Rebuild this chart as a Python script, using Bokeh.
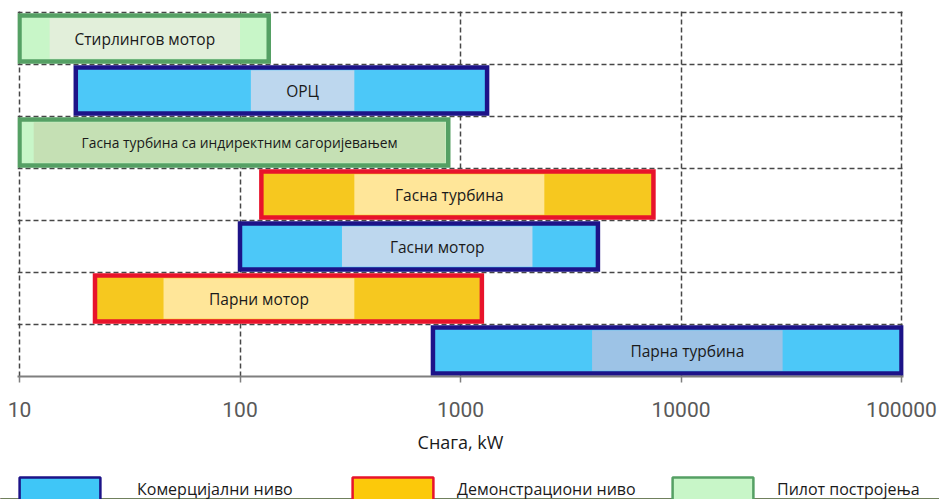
import math
from bokeh.plotting import figure
from bokeh.layouts import column
from bokeh.models import (Range1d, FixedTicker, CustomJSTickFormatter, Legend,
                          LegendItem, ColumnDataSource)
from bokeh.embed import file_html
from bokeh.resources import INLINE

# ---------------- data ----------------
technologies = ["Стирлингов мотор", "ОРЦ",
                "Гасна турбина са индиректним сагоријевањем",
                "Гасна турбина", "Гасни мотор", "Парни мотор", "Парна турбина"]
power_min_kw = [10, 18, 10, 125, 100, 22, 750]
power_max_kw = [135, 1320, 880, 7500, 4200, 1250, 100000]
maturity = ["pilot", "commercial", "pilot", "demo", "commercial", "demo", "commercial"]
label_box_min_kw = [13.7, 112, 11.6, 330, 290, 45, 3950]
label_box_max_kw = [100, 330, 855, 2400, 2120, 330, 28900]
tick_values = [10, 100, 1000, 10000, 100000]
legend_order = ["commercial", "demo", "pilot"]
legend_labels = ["Комерцијални ниво", "Демонстрациони ниво", "Пилот постројења"]
x_title = "Снага, kW"

# ---------------- styles ----------------
fill_colors = {"commercial": "#4cc8f8", "demo": "#f6c81f", "pilot": "#c8f6c8"}
legend_fill_colors = {"commercial": "#3fc6f7", "demo": "#fcc90a", "pilot": "#c8f6c8"}
line_colors = {"commercial": "#1d1388", "demo": "#e8132b", "pilot": "#55a064"}
label_box_colors = ["#e2efda", "#bdd7ee", "#c5e0b4", "#ffe699", "#bdd7ee", "#ffe699", "#9dc3e6"]
label_font_sizes = ["15.5px", "15.5px", "13.8px", "15.5px", "15.5px", "15.5px", "15.5px"]
legend_x_px = [9, 342, 662]          # legend placement (screen px from left edge)
legend_standoff_px = [27, 14, 14]
FONT = "Open Sans"

n = len(technologies)
row_y = [n - 1 - i + 0.5 for i in range(n)]

PX_DEC = 220.5      # pixels per decade
PAD = 2.0           # extra pixels so edge grid lines show
p = figure(width=939, height=474, x_axis_type="log",
           x_range=Range1d(10 ** (1 - PAD / PX_DEC), 10 ** (5 + PAD / PX_DEC)),
           y_range=Range1d(0, n + PAD / 52.0),
           output_backend="svg", toolbar_location=None,
           min_border_left=17, min_border_right=36, min_border_top=10,
           min_border_bottom=98)
p.outline_line_color = None
p.background_fill_color = "white"
p.border_fill_color = "white"

# grid
p.xgrid.ticker = FixedTicker(ticks=tick_values, minor_ticks=[])
p.ygrid.ticker = FixedTicker(ticks=list(range(0, n + 1)), minor_ticks=[])
for g in (p.xgrid, p.ygrid):
    g.grid_line_color = "#474747"
    g.grid_line_dash = "5 3"
    g.grid_line_width = 1.5
p.yaxis.visible = False

# bars grouped by maturity
for key in legend_order:
    idx = [i for i in range(n) if maturity[i] == key]
    src = ColumnDataSource(dict(
        y=[row_y[i] for i in idx],
        left=[power_min_kw[i] for i in idx],
        right=[power_max_kw[i] for i in idx]))
    p.hbar(y="y", left="left", right="right", height=0.88, source=src,
           fill_color=fill_colors[key], line_color=line_colors[key],
           line_width=4.5, line_join="miter")

# label boxes
lsrc = ColumnDataSource(dict(
    y=row_y, left=label_box_min_kw, right=label_box_max_kw,
    color=label_box_colors,
    xc=[math.sqrt(a * b) for a, b in zip(label_box_min_kw, label_box_max_kw)],
    text=technologies, fs=label_font_sizes))
p.hbar(y="y", left="left", right="right", height=0.78, source=lsrc,
       fill_color="color", line_color=None)
p.text(x="xc", y="y", text="text", source=lsrc, text_align="center",
       text_baseline="middle", text_font_size="fs", text_color="#1a1a1a",
       text_font={"value": FONT})

# x axis
ax = p.xaxis[0]
ax.ticker = FixedTicker(ticks=tick_values, minor_ticks=[])
ax.formatter = CustomJSTickFormatter(code="return tick.toFixed(0);")
ax.axis_line_color = "#7f7f7f"
ax.axis_line_width = 2
ax.major_tick_line_color = "#7f7f7f"
ax.major_tick_line_width = 1.5
ax.major_tick_out = 6
ax.major_tick_in = 0
ax.minor_tick_line_color = None
ax.major_label_text_font = "Roboto"
ax.major_label_text_font_size = "21px"
ax.major_label_text_color = "#595959"
ax.major_label_standoff = 19
ax.axis_label = x_title
ax.axis_label_text_font = FONT
ax.axis_label_text_font_style = "normal"
ax.axis_label_text_font_size = "18px"
ax.axis_label_text_color = "#1a1a1a"
ax.axis_label_standoff = 10

# legend strip
pl = figure(width=939, height=25, x_range=Range1d(0, 1), y_range=Range1d(0, 1),
            output_backend="svg", toolbar_location=None,
            x_axis_location=None, y_axis_location=None,
            min_border=0, min_border_left=0, min_border_right=0,
            min_border_top=0, min_border_bottom=0)
try:
    pl.frame_align = False
except Exception:
    pass
pl.outline_line_color = None
pl.grid.visible = False
pl.background_fill_color = "white"
pl.border_fill_color = "white"
for key, lab, lx, so in zip(legend_order, legend_labels, legend_x_px, legend_standoff_px):
    dummy = ColumnDataSource(dict(y=[-5.0], left=[0.0], right=[1.0]))
    r = pl.hbar(y="y", left="left", right="right", height=1, source=dummy,
                fill_color=legend_fill_colors[key], line_color=line_colors[key],
                line_width=2.5)
    lg = Legend(items=[LegendItem(label=lab, renderers=[r])], location=(lx, -5),
                glyph_width=101, glyph_height=30, label_standoff=so,
                padding=0, margin=0, border_line_alpha=0, background_fill_alpha=0,
                label_text_font=FONT, label_text_font_size="16px",
                label_text_color="#1a1a1a", label_height=30)
    pl.add_layout(lg, "center")

layout = column(p, pl, spacing=0)
open("out.html", "w").write(file_html(layout, INLINE))
